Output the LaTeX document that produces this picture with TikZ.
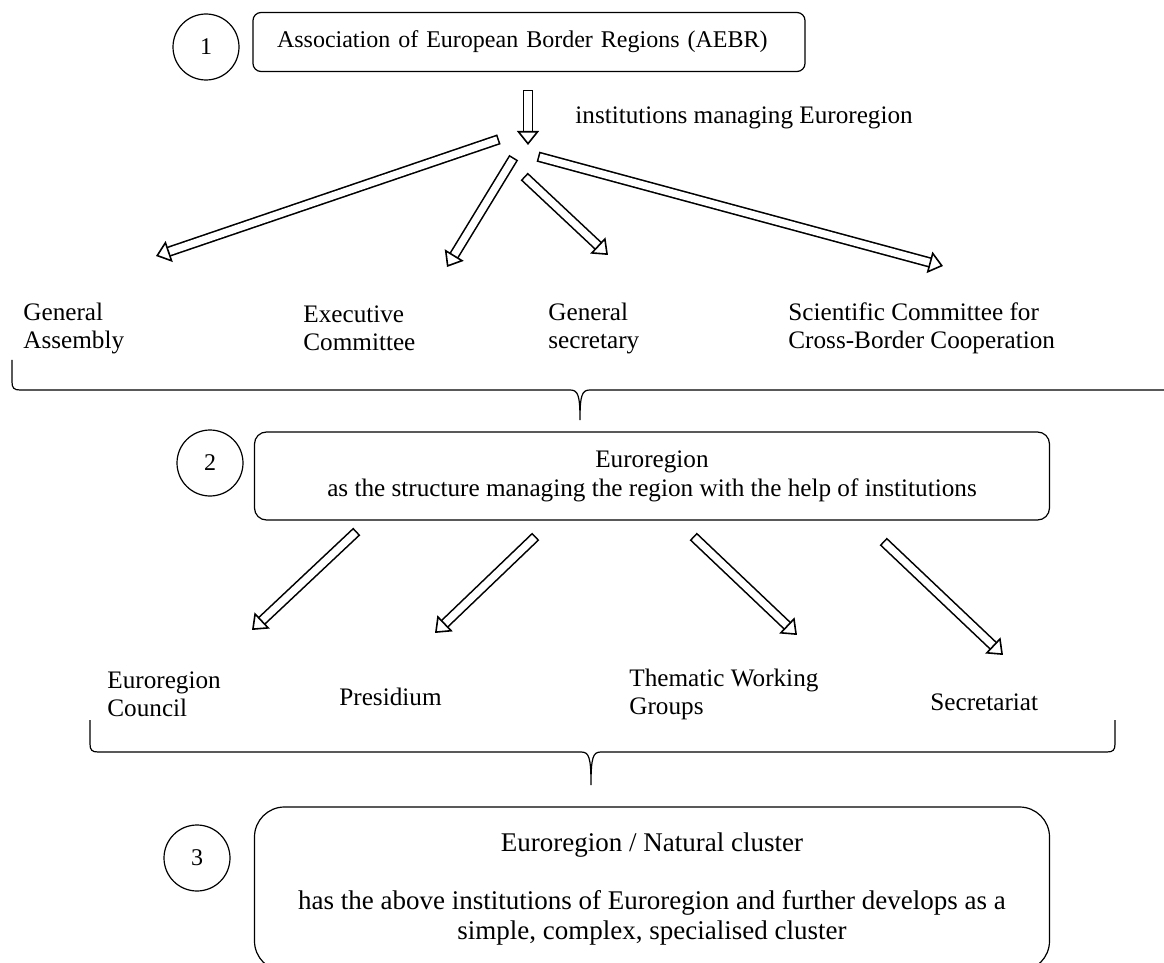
\documentclass[tikz,border=0pt]{standalone}
\usepackage{fontspec}
\setmainfont{Liberation Serif}
\usetikzlibrary{arrows.meta}

\begin{document}
\begin{tikzpicture}[
  x=0.5pt, y=-0.5pt,
  every node/.style={font=\fontsize{12pt}{13.8pt}\selectfont},
  box/.style={draw, rectangle, align=center, line width=0.6pt},
  num/.style={draw, circle, minimum size=33pt, inner sep=0pt, line width=0.6pt},
  lbl/.style={anchor=west, align=left, inner sep=0pt,
    font=\fontsize{12.6pt}{14pt}\selectfont},
  hollow/.style={double, double distance=3.6pt, line width=0.8pt, line cap=rect,
    -{Triangle[fill=white, length=7pt, width=11pt, line width=0.8pt]}},
  brace/.style={line width=0.6pt}
]
\useasboundingbox (0,0) rectangle (1164,963);

\node[num] (n1) at (206,47) {1};

\node[box, rounded corners=4pt, minimum width=276pt, minimum height=29.5pt,
  inner xsep=12pt, text width=252pt, align=left] (aebr) at (529,42)
{Association of European Border Regions (AEBR)};

\node[lbl] (inst) at (575,118) {institutions managing Euroregion};

\node[lbl] (ga) at (23,328) {General\\Assembly};

\node[lbl] (ec) at (303,328) {Executive\\Committee};

\node[lbl] (gs) at (548,328) {General\\secretary};

\node[lbl] (sc) at (788,328) {Scientific Committee for\\Cross-Border Cooperation};

\node[num] (n2) at (210,463) {2};

\node[box, rounded corners=6pt, minimum width=397.5pt, minimum height=44pt,
  font=\fontsize{12.6pt}{14.5pt}\selectfont] (ereg) at (652,476)
{Euroregion\\as the structure managing the region with the help of institutions};

\node[lbl] (erc) at (107,694) {Euroregion\\Council};

\node[lbl] (pr) at (339,697) {Presidium};

\node[lbl] (twg) at (629,694) {Thematic Working\\Groups};

\node[lbl] (sec) at (930,702) {Secretariat};

\node[num] (n3) at (197,858) {3};

\node[box, rounded corners=15pt, minimum width=397.5pt, minimum height=82pt,
  font=\fontsize{13.5pt}{15pt}\selectfont] (clus) at (652,889)
{Euroregion / Natural cluster\\[14pt]has the above institutions of Euroregion and further develops as a\\simple, complex, specialised cluster};

\coordinate (hubtop) at (528,95);
\coordinate (hubbot) at (528,145);
\coordinate (s1) at (494,141);
\coordinate (t1) at (156,256);
\coordinate (s2) at (511,162);
\coordinate (t2) at (447,267);
\coordinate (s3) at (528,180);
\coordinate (t3) at (608,255);
\coordinate (s4) at (543,158);
\coordinate (t4) at (943,266);

\coordinate (u1) at (353,535);
\coordinate (v1) at (252,630);
\coordinate (u2) at (532,540);
\coordinate (v2) at (435,633);
\coordinate (u3) at (697,540);
\coordinate (v3) at (797,635);
\coordinate (u4) at (887,545);
\coordinate (v4) at (1003,655);

\draw[hollow] (hubtop) -- (hubbot);
\draw[hollow] (s1) -- (t1);
\draw[hollow] (s2) -- (t2);
\draw[hollow] (s3) -- (t3);
\draw[hollow] (s4) -- (t4);

\draw[hollow] (u1) -- (v1);
\draw[hollow] (u2) -- (v2);
\draw[hollow] (u3) -- (v3);
\draw[hollow] (u4) -- (v4);

\draw[brace] (12,360) -- (12,382) .. controls (12,388) and (14,390) .. (20,390)
  -- (570,390) .. controls (578,390) and (580,395) .. (580,420)
  .. controls (580,395) and (582,390) .. (590,390) -- (1175,390) -- (1175,360);

\draw[brace] (90,720) -- (90,744) .. controls (90,750) and (92,752) .. (98,752)
  -- (581,752) .. controls (589,752) and (591,757) .. (591,785)
  .. controls (591,757) and (593,752) .. (601,752) -- (1107,752)
  .. controls (1113,752) and (1115,750) .. (1115,744) -- (1115,720);

\end{tikzpicture}
\end{document}
